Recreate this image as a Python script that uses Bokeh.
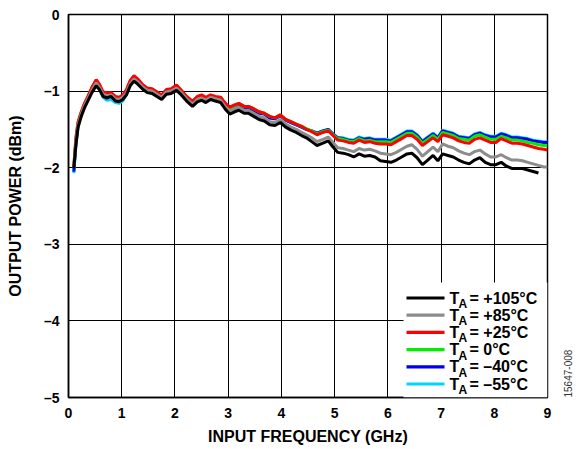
import math
from bokeh.plotting import figure
from bokeh.models import Range1d, FixedTicker, Label, BoxAnnotation, LinearAxis
from bokeh.embed import file_html
from bokeh.resources import INLINE

# ---------------- data ----------------
freq_ghz = [
    0.10, 0.14, 0.18, 0.24, 0.30, 0.37, 0.44, 0.52, 0.58, 0.65,
    0.72, 0.80, 0.88, 0.95, 1.02, 1.09, 1.16, 1.23, 1.30, 1.40,
    1.48, 1.57, 1.66, 1.75, 1.84, 1.93, 2.03, 2.12, 2.22, 2.33,
    2.42, 2.50, 2.58, 2.67, 2.76, 2.86, 2.95, 3.03, 3.12, 3.20,
    3.30, 3.38, 3.48, 3.58, 3.68, 3.78, 3.88, 3.98, 4.08, 4.18,
    4.28, 4.38, 4.47, 4.57, 4.67, 4.78, 4.88, 4.97, 5.06, 5.16,
    5.26, 5.36, 5.46, 5.56, 5.66, 5.76, 5.86, 5.96, 6.06, 6.16,
    6.26, 6.36, 6.45, 6.55, 6.65, 6.75, 6.85, 6.94, 7.03, 7.13,
    7.23, 7.33, 7.43, 7.53, 7.63, 7.73, 7.83, 7.93, 8.03, 8.13,
    8.23, 8.33, 8.43, 8.53, 8.63, 8.73, 8.83, 8.93, 9.00,
]

p105 = [
    -2.01, -1.70, -1.47, -1.33, -1.22, -1.12, -1.02, -0.93, -0.98, -1.07,
    -1.09, -1.07, -1.13, -1.14, -1.11, -1.05, -0.93, -0.87, -0.91, -0.98,
    -1.02, -1.03, -1.07, -1.11, -1.04, -1.03, -0.99, -1.05, -1.13, -1.20,
    -1.14, -1.12, -1.15, -1.11, -1.13, -1.15, -1.24, -1.30, -1.27, -1.25,
    -1.29, -1.29, -1.33, -1.37, -1.39, -1.44, -1.45, -1.41, -1.47, -1.51,
    -1.54, -1.58, -1.61, -1.66, -1.71, -1.68, -1.65, -1.73, -1.80, -1.81,
    -1.83, -1.86, -1.82, -1.85, -1.84, -1.86, -1.91, -1.92, -1.93, -1.90,
    -1.86, -1.82, -1.81, -1.87, -1.96, -1.90, -1.84, -1.91, -1.82, -1.84,
    -1.86, -1.90, -1.93, -1.95, -1.90, -1.87, -1.93, -1.96, -1.96, -1.93,
    -1.98, -2.01, -2.01, -2.01, -2.03, -2.05, -2.07,
]

p85 = [
    -2.00, -1.66, -1.44, -1.30, -1.19, -1.09, -0.99, -0.89, -0.95, -1.04,
    -1.06, -1.05, -1.10, -1.11, -1.08, -1.02, -0.90, -0.84, -0.88, -0.95,
    -0.99, -1.00, -1.04, -1.08, -1.01, -1.00, -0.96, -1.02, -1.10, -1.17,
    -1.11, -1.09, -1.12, -1.08, -1.10, -1.12, -1.21, -1.26, -1.23, -1.21,
    -1.25, -1.25, -1.29, -1.33, -1.35, -1.40, -1.41, -1.37, -1.43, -1.47,
    -1.50, -1.54, -1.57, -1.61, -1.66, -1.63, -1.60, -1.67, -1.74, -1.75,
    -1.77, -1.79, -1.75, -1.77, -1.76, -1.78, -1.81, -1.82, -1.83, -1.80,
    -1.76, -1.72, -1.70, -1.76, -1.85, -1.79, -1.73, -1.79, -1.69, -1.72,
    -1.74, -1.78, -1.81, -1.83, -1.79, -1.77, -1.82, -1.86, -1.86, -1.83,
    -1.87, -1.90, -1.90, -1.91, -1.93, -1.95, -1.97, -1.99, -1.99,
]

p25 = [
    -1.98, -1.60, -1.40, -1.27, -1.16, -1.06, -0.95, -0.85, -0.91, -1.01,
    -1.02, -1.02, -1.07, -1.08, -1.05, -0.98, -0.86, -0.80, -0.84, -0.92,
    -0.96, -0.97, -1.01, -1.05, -0.98, -0.97, -0.92, -0.99, -1.07, -1.13,
    -1.07, -1.05, -1.08, -1.05, -1.07, -1.08, -1.16, -1.21, -1.18, -1.16,
    -1.20, -1.20, -1.23, -1.27, -1.29, -1.33, -1.35, -1.31, -1.37, -1.40,
    -1.43, -1.46, -1.50, -1.53, -1.57, -1.54, -1.52, -1.58, -1.64, -1.65,
    -1.67, -1.68, -1.64, -1.67, -1.66, -1.68, -1.69, -1.69, -1.70, -1.66,
    -1.62, -1.58, -1.58, -1.63, -1.71, -1.66, -1.61, -1.66, -1.57, -1.59,
    -1.61, -1.65, -1.67, -1.68, -1.63, -1.61, -1.64, -1.67, -1.67, -1.62,
    -1.65, -1.68, -1.68, -1.69, -1.71, -1.73, -1.75, -1.76, -1.77,
]

p0 = [
    -1.99, -1.62, -1.41, -1.28, -1.17, -1.07, -0.96, -0.86, -0.92, -1.02,
    -1.03, -1.03, -1.08, -1.09, -1.06, -0.99, -0.87, -0.81, -0.85, -0.93,
    -0.97, -0.98, -1.02, -1.06, -0.99, -0.98, -0.93, -1.00, -1.08, -1.14,
    -1.08, -1.06, -1.09, -1.06, -1.08, -1.09, -1.17, -1.22, -1.19, -1.16,
    -1.20, -1.20, -1.23, -1.27, -1.29, -1.33, -1.35, -1.31, -1.37, -1.40,
    -1.43, -1.46, -1.49, -1.52, -1.56, -1.53, -1.51, -1.57, -1.62, -1.63,
    -1.65, -1.66, -1.62, -1.65, -1.64, -1.66, -1.66, -1.66, -1.67, -1.63,
    -1.59, -1.55, -1.55, -1.60, -1.68, -1.63, -1.58, -1.63, -1.54, -1.56,
    -1.58, -1.62, -1.63, -1.64, -1.59, -1.57, -1.60, -1.63, -1.63, -1.59,
    -1.61, -1.64, -1.64, -1.65, -1.67, -1.68, -1.70, -1.71, -1.71,
]

m40 = [
    -2.05, -1.66, -1.44, -1.29, -1.18, -1.08, -0.97, -0.87, -0.93, -1.04,
    -1.05, -1.04, -1.09, -1.11, -1.08, -1.00, -0.88, -0.82, -0.86, -0.94,
    -0.98, -0.99, -1.03, -1.07, -1.00, -0.99, -0.94, -1.01, -1.09, -1.16,
    -1.10, -1.08, -1.11, -1.08, -1.10, -1.11, -1.19, -1.24, -1.21, -1.18,
    -1.22, -1.22, -1.25, -1.29, -1.30, -1.35, -1.36, -1.32, -1.38, -1.41,
    -1.44, -1.47, -1.50, -1.52, -1.55, -1.52, -1.50, -1.56, -1.61, -1.62,
    -1.64, -1.65, -1.61, -1.63, -1.62, -1.64, -1.64, -1.64, -1.65, -1.61,
    -1.57, -1.53, -1.53, -1.58, -1.66, -1.61, -1.56, -1.61, -1.52, -1.54,
    -1.56, -1.60, -1.61, -1.62, -1.57, -1.55, -1.58, -1.60, -1.60, -1.56,
    -1.58, -1.61, -1.61, -1.62, -1.63, -1.65, -1.66, -1.67, -1.67,
]

m55 = [
    -2.07, -1.70, -1.47, -1.31, -1.19, -1.09, -0.98, -0.88, -0.96, -1.08,
    -1.12, -1.11, -1.15, -1.16, -1.13, -1.03, -0.90, -0.83, -0.87, -0.95,
    -0.99, -1.00, -1.04, -1.08, -1.01, -1.00, -0.95, -1.02, -1.10, -1.16,
    -1.10, -1.08, -1.11, -1.08, -1.10, -1.11, -1.19, -1.24, -1.21, -1.18,
    -1.22, -1.22, -1.25, -1.29, -1.30, -1.35, -1.36, -1.32, -1.38, -1.41,
    -1.44, -1.47, -1.50, -1.52, -1.55, -1.52, -1.50, -1.56, -1.61, -1.61,
    -1.63, -1.64, -1.60, -1.62, -1.61, -1.63, -1.63, -1.63, -1.64, -1.60,
    -1.56, -1.52, -1.52, -1.57, -1.65, -1.60, -1.55, -1.60, -1.51, -1.53,
    -1.55, -1.59, -1.60, -1.61, -1.56, -1.54, -1.57, -1.59, -1.59, -1.55,
    -1.57, -1.60, -1.60, -1.61, -1.62, -1.64, -1.65, -1.66, -1.66,
]

x_ticks = [0, 1, 2, 3, 4, 5, 6, 7, 8, 9]
y_ticks = [0, -1, -2, -3, -4, -5]
y_tick_labels = ["0", "\u20131", "\u20132", "\u20133", "\u20134", "\u20135"]

series_names = ["+105\u00b0C", "+85\u00b0C", "+25\u00b0C", "0\u00b0C", "\u201340\u00b0C", "\u201355\u00b0C"]
series_vals = [p105, p85, p25, p0, m40, m55]
series_colors = ["#000000", "#8c8c8c", "#ff0000", "#00ee00", "#0000ee", "#00d4ff"]
figure_id = "15647-008"

# ---------------- layout ----------------
W, H = 584, 449
FL, FR, FT, FB = 68, 547, 14, 397
X0, X1, Y0, Y1 = 0, 9, -5, 0
FONT = "Liberation Sans"

p = figure(width=W, height=H, output_backend="svg", toolbar_location=None,
           x_range=Range1d(X0, X1), y_range=Range1d(Y0, Y1),
           min_border_left=FL, min_border_right=W - FR,
           min_border_top=FT, min_border_bottom=H - FB)
p.background_fill_color = "white"
p.border_fill_color = "white"
p.outline_line_color = "black"
p.outline_line_width = 1.5
p.outline_line_alpha = 1

p.xaxis.ticker = FixedTicker(ticks=x_ticks)
p.yaxis.ticker = FixedTicker(ticks=y_ticks)
p.yaxis.major_label_overrides = {t: l for t, l in zip(y_ticks, y_tick_labels)}
p.xaxis.axis_label = "INPUT FREQUENCY (GHz)"
p.yaxis.axis_label = "OUTPUT POWER (dBm)"
for ax in (p.xaxis, p.yaxis):
    ax.major_label_text_font = FONT
    ax.major_label_text_font_style = "bold"
    ax.major_label_text_font_size = "14px"
    ax.major_label_text_color = "black"
    ax.axis_label_text_font = FONT
    ax.axis_label_text_font_style = "bold"
    ax.axis_label_text_font_size = "16px"
    ax.axis_label_text_color = "black"
    ax.major_tick_in = 0
    ax.major_tick_out = 0
    ax.minor_tick_line_color = None
    ax.axis_line_color = "black"
    ax.axis_line_width = 1.5
p.xaxis.major_label_standoff = 10
p.xaxis.axis_label_standoff = 7
p.yaxis.major_label_standoff = 9
p.yaxis.axis_label_standoff = 17

p.grid.grid_line_color = "black"
p.grid.grid_line_width = 1
p.grid.grid_line_alpha = 1

draw_order = [5, 4, 3, 2, 1, 0]
for i in draw_order:
    vals = series_vals[i]
    p.line(freq_ghz[:len(vals)], vals, line_color=series_colors[i], line_width=3)

# ---------------- custom legend (subscript A) ----------------
def dx(px):
    return X0 + (px - FL) / (FR - FL) * (X1 - X0)

def dy(px):
    return Y1 - (px - FT) / (FB - FT) * (Y1 - Y0)

p.add_layout(BoxAnnotation(left=dx(403), right=X1, top=dy(282), bottom=Y0,
                           fill_color="white", fill_alpha=1, line_color=None))
row0, row_step = 297.5, 17.2
for k, (name, col) in enumerate(zip(series_names, series_colors)):
    yc = row0 + k * row_step
    p.add_layout(BoxAnnotation(left=dx(406), right=dx(444), top=dy(yc - 1.6), bottom=dy(yc + 1.6),
                               fill_color=col, fill_alpha=1, line_color=None))
    p.add_layout(Label(x=dx(449), y=dy(yc), text="T", text_font=FONT, text_font_style="bold",
                       text_font_size="16px", text_baseline="middle", text_align="left",
                       text_color="black"))
    p.add_layout(Label(x=dx(458), y=dy(yc + 6), text="A", text_font=FONT, text_font_style="bold",
                       text_font_size="12px", text_baseline="middle", text_align="left",
                       text_color="black"))
    p.add_layout(Label(x=dx(469), y=dy(yc), text="= " + name, text_font=FONT, text_font_style="bold",
                       text_font_size="16px", text_baseline="middle", text_align="left",
                       text_color="black"))

# side figure id: a tick label of an invisible right-hand axis, rotated to read upward
p.extra_y_ranges = {"fig_id": Range1d(0, 1)}
id_axis = LinearAxis(y_range_name="fig_id", ticker=FixedTicker(ticks=[0]),
                     major_label_overrides={0: figure_id},
                     major_label_orientation=math.pi / 2,
                     axis_line_color=None, major_tick_line_color=None,
                     minor_tick_line_color=None,
                     major_label_text_font=FONT, major_label_text_font_size="10px",
                     major_label_text_color="#333333", major_label_standoff=14)
p.add_layout(id_axis, "right")

open("out.html", "w").write(file_html(p, INLINE))
